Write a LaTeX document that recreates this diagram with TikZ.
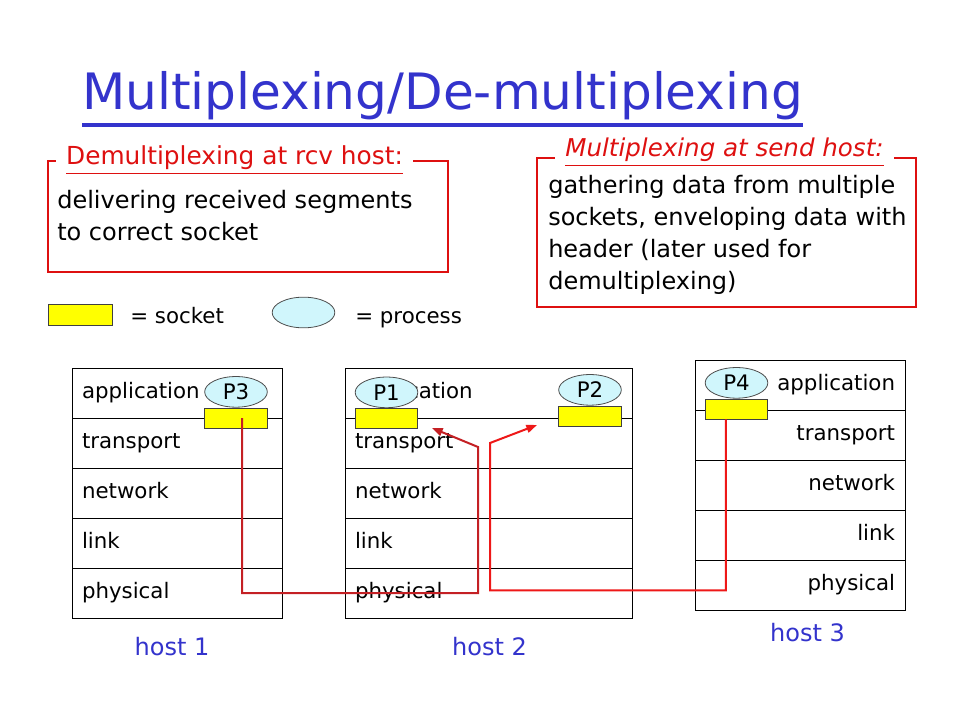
\documentclass[tikz,border=0pt]{standalone}
\usepackage{fontspec}
\setmainfont{DejaVu Sans}
\usetikzlibrary{positioning}
\usetikzlibrary{shapes.geometric}
\usetikzlibrary{arrows.meta}
\definecolor{titleblue}{RGB}{51,51,204}
\definecolor{boxred}{RGB}{222,16,16}
\definecolor{wirered}{RGB}{196,32,36}
\definecolor{wireredb}{RGB}{238,24,24}
\definecolor{sockyellow}{RGB}{255,255,0}
\definecolor{proccyan}{RGB}{208,246,252}
\newcommand{\ulinetxt}[2][1.5pt]{\vtop{\hbox{#2}\kern2pt\hrule height #1}}
\tikzstyle{layer} = [rectangle, draw=black, line width=0.75pt, minimum height=37.5pt, inner xsep=7.5pt, inner ysep=0pt, outer sep=0pt, text height=12pt, text depth=3.5pt, font=\fontsize{16}{16}\selectfont]
\tikzstyle{sock} = [rectangle, draw=black!75, line width=0.6pt, fill=sockyellow, minimum width=47pt, minimum height=15pt, inner sep=0pt]
\tikzstyle{proc} = [ellipse, draw=black!70, line width=0.6pt, fill=proccyan, minimum width=47pt, minimum height=23pt, inner sep=0pt, font=\fontsize{16}{16}\selectfont]

\begin{document}
\begin{tikzpicture}[x=0.75pt, y=-0.75pt,
    hostA/.style={layer, text width=142.5pt, align=left},
    hostB/.style={layer, text width=200.25pt, align=left},
    hostC/.style={layer, text width=142.5pt, align=right},
    redbox/.style={rectangle, draw=boxred, line width=1.5pt, inner sep=0pt},
    boxcaption/.style={anchor=base, fill=white, text=boxred, inner xsep=8pt, inner ysep=1pt, font=\fontsize{18.6}{18.6}\selectfont},
    body/.style={anchor=north west, align=left, inner sep=0pt, font=\fontsize{18}{24}\selectfont},
    legend/.style={anchor=base west, inner sep=0pt, font=\fontsize{16}{16}\selectfont},
    hostname/.style={anchor=base, text=titleblue, font=\fontsize{18}{18}\selectfont},
    wire/.style={line width=1.5pt, -{Triangle[length=8pt,width=6pt]}}]
\useasboundingbox (0,0) rectangle (960,720);

% Title
\node[anchor=base, inner sep=0pt, text=titleblue, font=\fontsize{37.6}{37.6}\selectfont] (title) at (442.5,110) {\ulinetxt[3pt]{Multiplexing/De-multiplexing}};

% Boxes
\node[redbox, anchor=north west, minimum width=300pt, minimum height=83.25pt] (rcvbox) at (47,160) {};
\node[boxcaption] (rcvcap) at (234.5,165) {\ulinetxt[1.2pt]{Demultiplexing at rcv host:}};
\node[body] (rcvtext) at (57,190) {delivering received segments\\to correct socket};

\node[redbox, anchor=north west, minimum width=284.25pt, minimum height=111.75pt] (sndbox) at (536,157) {};
\node[boxcaption, font=\fontsize{18.4}{18.4}\selectfont\itshape] (sndcap) at (724.5,157) {\ulinetxt[1.2pt]{Multiplexing at send host:}};
\node[body] (sndtext) at (548,175) {gathering data from multiple\\sockets, enveloping data with\\header (later used for\\demultiplexing)};

% Legend
\node[sock, minimum width=48pt, minimum height=16pt] (lsock) at (80,315) {};
\node[legend] (lsocktxt) at (130,323) {= socket};
\node[proc] (lproc) at (303.5,312.5) {};
\node[legend] (lproctxt) at (355,323) {= process};

% Host 1
\node[hostA, anchor=north west] (h1app) at (72,368) {application};
\node[hostA, below=0pt of h1app]   (h1trans) {transport};
\node[hostA, below=0pt of h1trans] (h1net)   {network};
\node[hostA, below=0pt of h1net]   (h1link)  {link};
\node[hostA, below=0pt of h1link]  (h1phy)   {physical};
\node[hostname] (h1name) at (172,655) {host 1};

% Host 2
\node[hostB, anchor=north west] (h2app) at (345,368) {application};
\node[hostB, below=0pt of h2app]   (h2trans) {transport};
\node[hostB, below=0pt of h2trans] (h2net)   {network};
\node[hostB, below=0pt of h2net]   (h2link)  {link};
\node[hostB, below=0pt of h2link]  (h2phy)   {physical};
\node[hostname] (h2name) at (489.5,655) {host 2};

% Host 3
\node[hostC, anchor=north west] (h3app) at (695,360) {application};
\node[hostC, below=0pt of h3app]   (h3trans) {transport};
\node[hostC, below=0pt of h3trans] (h3net)   {network};
\node[hostC, below=0pt of h3net]   (h3link)  {link};
\node[hostC, below=0pt of h3link]  (h3phy)   {physical};
\node[hostname] (h3name) at (807.5,641) {host 3};

% Sockets and processes
\node[sock] (s3) at (236,418) {};
\node[proc, above=0pt of s3] (p3) {P3};
\node[sock] (s1) at (386.5,418.5) {};
\node[proc, above=0pt of s1] (p1) {P1};
\node[sock] (s2) at (590,416) {};
\node[proc, above=0pt of s2] (p2) {P2};
\node[sock] (s4) at (736.5,409) {};
\node[proc, above=0pt of s4] (p4) {P4};

% Edges
\coordinate (w1turn) at (478,447);
\coordinate (w1tip)  at (432,428);
\coordinate (w2turn) at (490,443);
\coordinate (w2tip)  at (537,425);
\draw[wire, wirered]  ([xshift=4.5pt]s3.center) -- ++(0,175) -| (w1turn) -- (w1tip);
\draw[wire, wireredb] ([xshift=-7.9pt]s4.south) -- ++(0,171) -| (w2turn) -- (w2tip);
\end{tikzpicture}
\end{document}
